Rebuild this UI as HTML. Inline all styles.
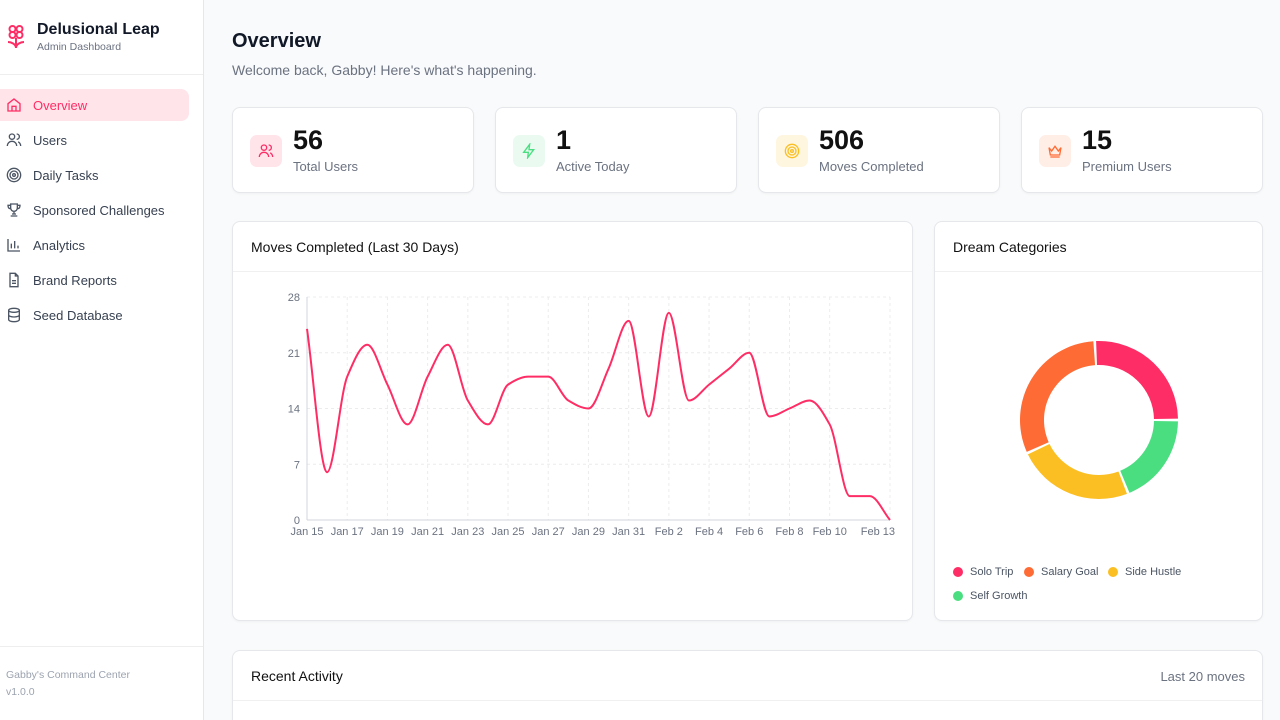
<!DOCTYPE html>
<html style="overflow:hidden;width:1280px;height:720px"><head><meta charset="utf-8"><style>
*{box-sizing:border-box;margin:0;padding:0}
body{width:1280px;height:720px;overflow:hidden;background:#f9fafb;font-family:"Liberation Sans",sans-serif;color:#111827;position:relative}
.abs{position:absolute}
.side{left:0;top:0;width:204px;height:720px;background:#fff;border-right:1px solid #e5e7eb}
.nav{left:0;width:189px;height:32px;border-radius:0 8px 8px 0;display:flex;align-items:center;font-size:13px;color:#374151}
.nav svg{position:absolute;left:6px;top:8px}
.nav span{position:absolute;left:33px}
.card{background:#fff;border:1px solid #e5e7eb;border-radius:8px;box-shadow:0 1px 2px rgba(0,0,0,.04)}
.stat .ic{position:absolute;left:17px;top:27px;width:32px;height:32px;border-radius:7px;display:flex;align-items:center;justify-content:center}
.stat .num{position:absolute;left:60px;top:17px;font-size:27px;font-weight:bold;color:#111}
.stat .lbl{position:absolute;left:60px;top:51px;font-size:13px;color:#6b7280}
.hdr{position:absolute;left:0;right:0;top:0;height:50px;border-bottom:1px solid #f0f0f0;font-size:14px;font-weight:normal;color:#111;padding:17px 0 0 18px}
.tick{font-size:11px;fill:#6b7280}
.leg{font-size:11px;color:#4b5563;display:flex;align-items:center}
.leg i{width:10px;height:10px;border-radius:50%;display:inline-block;margin-right:7px}
</style></head><body>
<div class="abs side">
  <svg class="abs" style="left:6px;top:24px" width="20" height="26" viewBox="0 0 20 26"><g fill="none" stroke="#ff2d65" stroke-width="2"><circle cx="6.5" cy="5" r="3"/><circle cx="13.5" cy="5" r="3"/><circle cx="6.5" cy="11" r="3"/><circle cx="13.5" cy="11" r="3"/><path d="M10 14v10M2 18c3 0 8 2 8 6M18 18c-3 0-8 2-8 6"/></g></svg>
  <div class="abs" style="left:37px;top:21px;font-size:16px;font-weight:600;color:#111827">Delusional Leap</div>
  <div class="abs" style="left:37px;top:41px;font-size:10.5px;color:#6b7280">Admin Dashboard</div>
  <div class="abs" style="left:0;top:74px;width:203px;border-top:1px solid #eee"></div>
  <div class="abs nav" style="top:89px;background:#ffe4ea;color:#ff2d65"><svg width="16" height="16" viewBox="0 0 24 24" fill="none" stroke="#ff2d65" stroke-width="2"><path d="M3 10l9-7 9 7v11H3z"/><path d="M9 21v-7h6v7"/></svg><span>Overview</span></div>
  <div class="abs nav" style="top:124px"><svg width="16" height="16" viewBox="0 0 24 24" fill="none" stroke="#4b5563" stroke-width="2"><circle cx="9" cy="7" r="4"/><path d="M2 21c0-4 3-7 7-7s7 3 7 7M16 3a4 4 0 010 8M22 21c0-3-2-6-4-6"/></svg><span>Users</span></div>
  <div class="abs nav" style="top:159px"><svg width="16" height="16" viewBox="0 0 24 24" fill="none" stroke="#4b5563" stroke-width="2"><circle cx="12" cy="12" r="10"/><circle cx="12" cy="12" r="6"/><circle cx="12" cy="12" r="2"/></svg><span>Daily Tasks</span></div>
  <div class="abs nav" style="top:194px"><svg width="16" height="16" viewBox="0 0 24 24" fill="none" stroke="#4b5563" stroke-width="2"><path d="M7 3h10v6a5 5 0 01-10 0zM7 5H3c0 4 2 5 4 5M17 5h4c0 4-2 5-4 5M12 14v4M7 21h10M9 18h6"/></svg><span>Sponsored Challenges</span></div>
  <div class="abs nav" style="top:229px"><svg width="16" height="16" viewBox="0 0 24 24" fill="none" stroke="#4b5563" stroke-width="2"><path d="M3 3v18h18M8 17V10M13 17V6M18 17v-4"/></svg><span>Analytics</span></div>
  <div class="abs nav" style="top:264px"><svg width="16" height="16" viewBox="0 0 24 24" fill="none" stroke="#4b5563" stroke-width="2"><path d="M14 2H6v20h12V6zM14 2v4h4M9 13h6M9 17h6"/></svg><span>Brand Reports</span></div>
  <div class="abs nav" style="top:299px"><svg width="16" height="16" viewBox="0 0 24 24" fill="none" stroke="#4b5563" stroke-width="2"><ellipse cx="12" cy="5" rx="8" ry="3"/><path d="M4 5v14c0 1.7 3.6 3 8 3s8-1.3 8-3V5M4 12c0 1.7 3.6 3 8 3s8-1.3 8-3"/></svg><span>Seed Database</span></div>
  <div class="abs" style="left:0;top:646px;width:203px;border-top:1px solid #eee"></div>
  <div class="abs" style="left:6px;top:669px;font-size:10.5px;color:#9ca3af">Gabby's Command Center</div>
  <div class="abs" style="left:6px;top:686px;font-size:10.5px;color:#9ca3af">v1.0.0</div>
</div>

<div class="abs" style="left:232px;top:30px;font-size:20px;font-weight:600">Overview</div>
<div class="abs" style="left:232px;top:62px;font-size:14px;color:#6b7280">Welcome back, Gabby! Here's what's happening.</div>

<div class="abs card stat" style="left:232px;top:107px;width:242px;height:86px"><div class="ic" style="background:#ffe4ea"><svg width="16" height="16" viewBox="0 0 24 24" fill="none" stroke="#ff2d65" stroke-width="2"><circle cx="9" cy="7" r="4"/><path d="M2 21c0-4 3-7 7-7s7 3 7 7M16 3a4 4 0 010 8M22 21c0-3-2-6-4-6"/></svg></div><div class="num">56</div><div class="lbl">Total Users</div></div>
<div class="abs card stat" style="left:495px;top:107px;width:242px;height:86px"><div class="ic" style="background:#eafaf0"><svg width="16" height="16" viewBox="0 0 24 24" fill="none" stroke="#4ade80" stroke-width="2"><path d="M13 2L4 14h7l-1 8 9-12h-7z"/></svg></div><div class="num">1</div><div class="lbl">Active Today</div></div>
<div class="abs card stat" style="left:758px;top:107px;width:242px;height:86px"><div class="ic" style="background:#fff6e0"><svg width="16" height="16" viewBox="0 0 24 24" fill="none" stroke="#fbbf24" stroke-width="2"><circle cx="12" cy="12" r="10"/><circle cx="12" cy="12" r="6"/><circle cx="12" cy="12" r="2"/></svg></div><div class="num">506</div><div class="lbl">Moves Completed</div></div>
<div class="abs card stat" style="left:1021px;top:107px;width:242px;height:86px"><div class="ic" style="background:#ffeee6"><svg width="16" height="16" viewBox="0 0 24 24" fill="none" stroke="#ff6b35" stroke-width="2"><path d="M3 7l4 5 5-7 5 7 4-5-2 11H5zM5 21h14"/></svg></div><div class="num">15</div><div class="lbl">Premium Users</div></div>

<div class="abs card" style="left:232px;top:221px;width:681px;height:400px">
  <div class="hdr">Moves Completed (Last 30 Days)</div>
</div>
<svg class="abs" id="line" style="left:0;top:0" width="1280" height="720"></svg>

<div class="abs card" style="left:934px;top:221px;width:329px;height:400px">
  <div class="hdr">Dream Categories</div>
  <div class="abs leg" style="left:18px;top:344px"><i style="background:#ff2d65"></i>Solo Trip</div>
  <div class="abs leg" style="left:89px;top:344px"><i style="background:#ff6b35"></i>Salary Goal</div>
  <div class="abs leg" style="left:173px;top:344px"><i style="background:#fbbf24"></i>Side Hustle</div>
  <div class="abs leg" style="left:18px;top:368px"><i style="background:#4ade80"></i>Self Growth</div>
</div>
<svg class="abs" id="pie" style="left:934px;top:221px" width="329" height="320"></svg>

<div class="abs card" style="left:232px;top:650px;width:1031px;height:70px;border-bottom:none;border-radius:8px 8px 0 0">
  <div class="hdr">Recent Activity</div>
  <div class="abs" style="right:17px;top:18px;font-size:13px;color:#6b7280">Last 20 moves</div>
</div>

<script>
const days = ["Jan 15","Jan 16","Jan 17","Jan 18","Jan 19","Jan 20","Jan 21","Jan 22","Jan 23","Jan 24","Jan 25","Jan 26","Jan 27","Jan 28","Jan 29","Jan 30","Jan 31","Feb 1","Feb 2","Feb 3","Feb 4","Feb 5","Feb 6","Feb 7","Feb 8","Feb 9","Feb 10","Feb 11","Feb 12","Feb 13"];
const moves = [24,6,18,22,17,12,18,22,15,12,17,18,18,15,14,19,25,13,26,15,17,19,21,13,14,15,12,3,3,0];
const yTicks = [0,7,14,21,28];
const xTickLabels = ["Jan 15","Jan 17","Jan 19","Jan 21","Jan 23","Jan 25","Jan 27","Jan 29","Jan 31","Feb 2","Feb 4","Feb 6","Feb 8","Feb 10","Feb 13"];
const categories = ["Solo Trip","Salary Goal","Side Hustle","Self Growth"];
const catValues = [15,18,14,11];
const catColors = ["#ff2d65","#ff6b35","#fbbf24","#4ade80"];

const NS="http://www.w3.org/2000/svg";
function mk(p,t,a){const e=document.createElementNS(NS,t);for(const k in a)e.setAttribute(k,a[k]);p.appendChild(e);return e;}
const L=document.getElementById('line');
const x0=307,x1=890,yT=297,yB=520,yMax=28;
const xs=i=>x0+(x1-x0)*i/(days.length-1);
const ys=v=>yB-(yB-yT)*v/yMax;
yTicks.forEach(t=>{
  const g=mk(L,'line',{x1:x0,x2:x1,y1:ys(t),y2:ys(t),stroke:'#ececec','stroke-dasharray':'3 3'});
  
  const tx=mk(L,'text',{x:x0-7,y:ys(t)+4,'text-anchor':'end',class:'tick'});tx.textContent=t;
  
});
xTickLabels.forEach((l,k)=>{
  const i=days.indexOf(l);
  const g=mk(L,'line',{x1:xs(i),x2:xs(i),y1:yT,y2:yB,stroke:'#ececec','stroke-dasharray':'3 3'});
  
  const last=k===xTickLabels.length-1;
  const tx=mk(L,'text',{x:last?xs(i)+5:xs(i),y:yB+15,'text-anchor':last?'end':'middle',class:'tick'});tx.textContent=l;
  
});
mk(L,'line',{x1:x0,x2:x0,y1:yT,y2:yB,stroke:'#d1d5db'});
mk(L,'line',{x1:x0,x2:x1,y1:yB,y2:yB,stroke:'#d1d5db'});
const P=moves.map((v,i)=>[xs(i),ys(v)]);const n=P.length;
const d=[],m=[];for(let i=0;i<n-1;i++)d.push((P[i+1][1]-P[i][1])/(P[i+1][0]-P[i][0]));
m[0]=d[0];m[n-1]=d[n-2];
for(let i=1;i<n-1;i++){if(d[i-1]*d[i]<=0)m[i]=0;else{const h0=P[i][0]-P[i-1][0],h1=P[i+1][0]-P[i][0];m[i]=3*(h0+h1)/((2*h1+h0)/d[i-1]+(h1+2*h0)/d[i]);}}
let path=`M${P[0][0]},${P[0][1]}`;
for(let i=0;i<n-1;i++){const h=(P[i+1][0]-P[i][0])/3;path+=` C${P[i][0]+h},${P[i][1]+m[i]*h} ${P[i+1][0]-h},${P[i+1][1]-m[i+1]*h} ${P[i+1][0]},${P[i+1][1]}`;}
const ln=mk(L,'path',{d:path,fill:'none',stroke:'#ff2d65','stroke-width':2});


const S=document.getElementById('pie');
const cx=165,cy=199,ro=79,ri=55,pad=2;
const tot=catValues.reduce((a,b)=>a+b,0);
let a=0;
catValues.forEach((v,i)=>{
  const span=360*v/tot;const s=(a+pad/2)*Math.PI/180,e=(a+span-pad/2)*Math.PI/180;a+=span;
  const pt=(r,t)=>[cx+r*Math.cos(t),cy-r*Math.sin(t)];
  const [a1,b1]=pt(ro,s),[a2,b2]=pt(ro,e),[a3,b3]=pt(ri,e),[a4,b4]=pt(ri,s);
  const lg=(e-s)>Math.PI?1:0;
  const sl=mk(S,'path',{d:`M${a1},${b1} A${ro},${ro} 0 ${lg} 0 ${a2},${b2} L${a3},${b3} A${ri},${ri} 0 ${lg} 1 ${a4},${b4}Z`,fill:catColors[i]});
  
  
});
</script>
</body></html>
